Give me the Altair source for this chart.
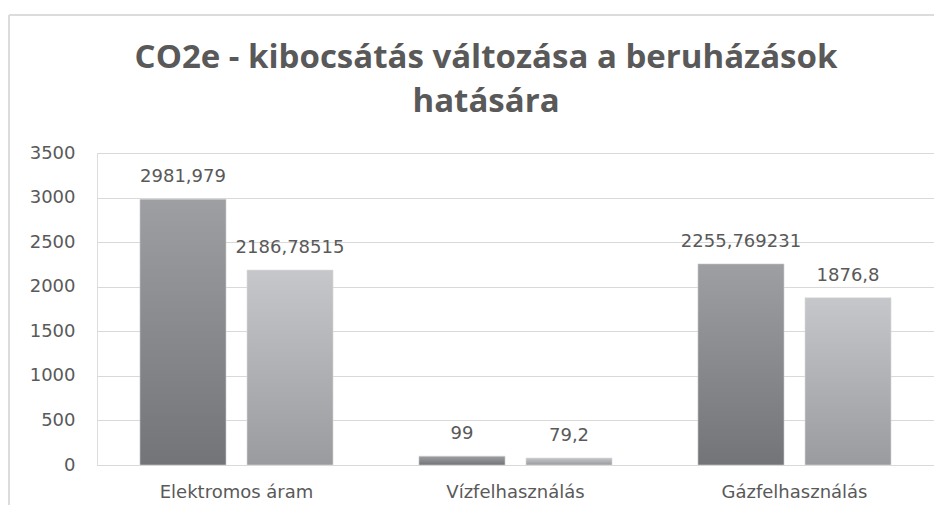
import altair as alt
import pandas as pd

categories = ["Elektromos áram", "Vízfelhasználás", "Gázfelhasználás"]
series_names = ["Beruházás előtt", "Beruházás után"]
before_values = [2981.979, 99, 2255.769231]
after_values = [2186.78515, 79.2, 1876.8]
y_ticks = [0, 500, 1000, 1500, 2000, 2500, 3000, 3500]
title_lines = ["CO2e - kibocsátás változása a beruházások", "hatására"]


def fmt(v):
    s = repr(float(v))
    if s.endswith(".0"):
        s = s[:-2]
    return s.replace(".", ",")


rows = []
for c, b, a in zip(categories, before_values, after_values):
    rows.append({"kat": c, "sor": series_names[0], "ertek": b, "cimke": fmt(b)})
    rows.append({"kat": c, "sor": series_names[1], "ertek": a, "cimke": fmt(a)})
df = pd.DataFrame(rows)

TXT = "#595959"
GRID = "#d9d9d9"
LFONT = "DejaVu Sans"

x_enc = alt.X(
    "kat:N",
    sort=categories,
    scale=alt.Scale(paddingInner=0.308, paddingOuter=0.154),
    axis=alt.Axis(title=None, labelAngle=0, ticks=False, domain=True, domainColor=GRID,
                  labelPadding=18, labelFontSize=18, labelFont=LFONT, labelColor=TXT),
)
xo_enc = alt.XOffset("sor:N", sort=series_names,
                     scale=alt.Scale(domain=series_names, paddingInner=0.196, paddingOuter=0))
y_enc = alt.Y(
    "ertek:Q",
    scale=alt.Scale(domain=[0, 3500], nice=False),
    axis=alt.Axis(title=None, values=y_ticks, format="d", grid=True, gridColor=GRID,
                  domain=False, ticks=False, labelPadding=22, labelFontSize=18,
                  labelFont=LFONT, labelColor=TXT),
)

dark_grad = alt.Gradient(gradient="linear", x1=0, x2=0, y1=0, y2=1,
                         stops=[alt.GradientStop(color="#9e9fa3", offset=0),
                                alt.GradientStop(color="#737478", offset=1)])
light_grad = alt.Gradient(gradient="linear", x1=0, x2=0, y1=0, y2=1,
                          stops=[alt.GradientStop(color="#c6c7ca", offset=0),
                                 alt.GradientStop(color="#9a9b9f", offset=1)])

base = alt.Chart(df)

bars_dark = base.transform_filter(alt.datum.sor == series_names[0]).mark_bar(
    color=dark_grad, stroke="#d0d0d0", strokeWidth=0.6
).encode(x=x_enc, xOffset=xo_enc, y=y_enc)

bars_light = base.transform_filter(alt.datum.sor == series_names[1]).mark_bar(
    color=light_grad, stroke="#dedede", strokeWidth=0.6
).encode(x=x_enc, xOffset=xo_enc, y=y_enc)

labels = base.mark_text(
    baseline="middle", dy=-22, fontSize=18, font=LFONT, color=TXT
).encode(x=x_enc, xOffset=xo_enc, y=y_enc, text="cimke:N")

border_df = pd.DataFrame({"b": [0]})
border_top = alt.Chart(border_df).mark_rule(color="#dcdcdc", strokeWidth=2).encode(
    x=alt.value(-88), x2=alt.value(860), y=alt.value(-138)
)
border_left = alt.Chart(border_df).mark_rule(color="#dcdcdc", strokeWidth=2).encode(
    x=alt.value(-88), y=alt.value(-138), y2=alt.value(360)
)

chart = alt.layer(border_top, border_left, bars_dark, bars_light, labels).properties(
    width=837,
    height=312,
    title=alt.TitleParams(
        text=title_lines,
        font="Open Sans",
        fontSize=33,
        fontWeight="bold",
        color=TXT,
        lineHeight=44,
        anchor="middle",
        frame="group",
        dx=-29.5,
        offset=0,
        dy=105,
    ),
    padding={"left": 89, "top": 145, "right": 0, "bottom": 40},
    autosize=alt.AutoSizeParams(type="none"),
).configure_view(stroke=None).configure(background="white")

chart.save("out.html", embed_options={"renderer": "svg", "actions": False})
